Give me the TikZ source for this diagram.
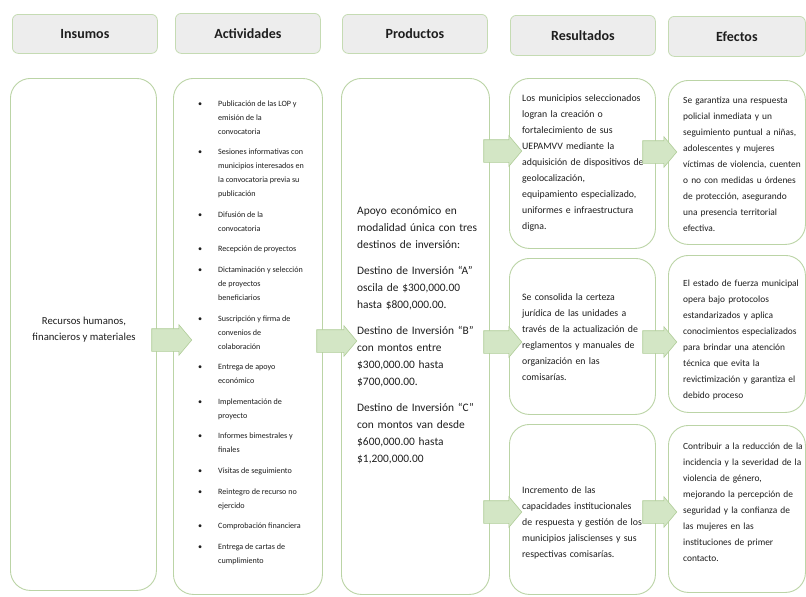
\documentclass[tikz,border=0pt]{standalone}
\usepackage{fontspec}
\setmainfont{Carlito}
\usetikzlibrary{shapes.arrows}
\definecolor{hdrfill}{HTML}{EDEDED}
\definecolor{hdrline}{HTML}{C5DBB3}
\definecolor{boxline}{HTML}{BBD4A6}
\definecolor{arrfill}{HTML}{D3E6C5}
\definecolor{arrline}{HTML}{B0CD98}
\definecolor{ink}{HTML}{1E1E1E}
\newcommand\actgap{\\[6.6pt]}
\begin{document}
\begin{tikzpicture}[x=1pt,y=-1pt,
  hdr/.style={draw=hdrline, fill=hdrfill, line width=0.8pt, rounded corners=6pt, anchor=north west, inner sep=0pt, font=\fontsize{14}{16}\selectfont\bfseries, text=ink},
  bigbox/.style={draw=boxline, fill=white, line width=0.9pt, rounded corners=20pt, anchor=north west, inner sep=0pt},
  barrow/.style={single arrow, draw=arrline, fill=arrfill, line width=0.6pt, inner xsep=0pt, inner ysep=11pt, minimum width=0pt, single arrow head extend=4pt, single arrow tip angle=100},
  bodytxt/.style={anchor=base west, inner sep=0pt, text=ink, align=left},
]
\useasboundingbox (0,0) rectangle (806,597);
\fill[white] (0,0) rectangle (806,597);

% headers
\node[hdr, minimum width=145pt, minimum height=39pt] (hins) at (12,14) {Insumos};
\node[hdr, minimum width=145pt, minimum height=40pt] (hact) at (175,13) {Actividades};
\node[hdr, minimum width=145pt, minimum height=39pt] (hpro) at (342,14) {Productos};
\node[hdr, minimum width=145pt, minimum height=40pt] (hres) at (510,15) {Resultados};
\node[hdr, minimum width=137pt, minimum height=40pt] (hefe) at (668,16) {Efectos};

% boxes
\node[bigbox, minimum width=146pt, minimum height=512pt] (ins) at (10,78) {};
\node[bigbox, minimum width=149pt, minimum height=516pt] (act) at (173,78) {};
\node[bigbox, minimum width=148pt, minimum height=516pt] (pro) at (341,78) {};
\node[bigbox, minimum width=146pt, minimum height=170pt] (res1) at (509,78) {};
\node[bigbox, minimum width=146pt, minimum height=156pt] (res2) at (509,258) {};
\node[bigbox, minimum width=146pt, minimum height=170pt] (res3) at (509,424) {};
\node[bigbox, minimum width=137pt, minimum height=164pt] (efe1) at (668,80) {};
\node[bigbox, minimum width=137pt, minimum height=157pt] (efe2) at (668,255) {};
\node[bigbox, minimum width=137pt, minimum height=167pt] (efe3) at (668,425) {};

% texts
\node[font=\fontsize{10.7}{16}\selectfont, align=center, text=ink, inner sep=0pt] (tins) at (84,330) {Recursos humanos,\\financieros y materiales};

\node[anchor=base west, inner sep=0pt, text=ink, font=\fontsize{8.1}{14}\selectfont] (tact) at (198,106) {%
\begin{tabular}[t]{@{}p{20pt}@{}l@{}}
\textbullet & Publicación de las LOP y\\
 & emisión de la\\
 & convocatoria\actgap
\textbullet & Sesiones informativas con\\
 & municipios interesados en\\
 & la convocatoria previa su\\
 & publicación\actgap
\textbullet & Difusión de la\\
 & convocatoria\actgap
\textbullet & Recepción de proyectos\actgap
\textbullet & Dictaminación y selección\\
 & de proyectos\\
 & beneficiarios\actgap
\textbullet & Suscripción y firma de\\
 & convenios de\\
 & colaboración\actgap
\textbullet & Entrega de apoyo\\
 & económico\actgap
\textbullet & Implementación de\\
 & proyecto\actgap
\textbullet & Informes bimestrales y\\
 & finales\actgap
\textbullet & Visitas de seguimiento\actgap
\textbullet & Reintegro de recurso no\\
 & ejercido\actgap
\textbullet & Comprobación financiera\actgap
\textbullet & Entrega de cartas de\\
 & cumplimiento
\end{tabular}};

\node[bodytxt, text width=135pt, font=\fontsize{11.4}{17}\selectfont] (tpro) at (357,214) {\setlength{\parskip}{9pt}%
Apoyo económico en\\modalidad única con tres\\destinos de inversión:\par
Destino de Inversión “A”\\oscila de \$300,000.00\\hasta \$800,000.00.\par
Destino de Inversión “B”\\con montos entre\\\$300,000.00 hasta\\\$700,000.00.\par
Destino de Inversión “C”\\con montos van desde\\\$600,000.00 hasta\\\$1,200,000.00};

\node[bodytxt, text width=135pt, font=\fontsize{9.8}{16}\selectfont] (tres1) at (522,101) {Los municipios seleccionados\\logran la creación o\\fortalecimiento de sus\\UEPAMVV mediante la\\adquisición de dispositivos de\\geolocalización,\\equipamiento especializado,\\uniformes e infraestructura\\digna.};
\node[bodytxt, text width=135pt, font=\fontsize{9.8}{16}\selectfont] (tres2) at (522,300) {Se consolida la certeza\\jurídica de las unidades a\\través de la actualización de\\reglamentos y manuales de\\organización en las\\comisarías.};
\node[bodytxt, text width=135pt, font=\fontsize{9.8}{16}\selectfont] (tres3) at (522,493) {Incremento de las\\capacidades institucionales\\de respuesta y gestión de los\\municipios jaliscienses y sus\\respectivas comisarías.};

\node[bodytxt, text width=135pt, font=\fontsize{9.4}{16}\selectfont] (tefe1) at (683,103) {Se garantiza una respuesta\\policial inmediata y un\\seguimiento puntual a niñas,\\adolescentes y mujeres\\víctimas de violencia, cuenten\\o no con medidas u órdenes\\de protección, asegurando\\una presencia territorial\\efectiva.};
\node[bodytxt, text width=135pt, font=\fontsize{9.4}{16}\selectfont] (tefe2) at (683,286) {El estado de fuerza municipal\\opera bajo protocolos\\estandarizados y aplica\\conocimientos especializados\\para brindar una atención\\técnica que evita la\\revictimización y garantiza el\\debido proceso};
\node[bodytxt, text width=135pt, font=\fontsize{9.4}{16}\selectfont] (tefe3) at (683,449) {Contribuir a la reducción de la\\incidencia y la severidad de la\\violencia de género,\\mejorando la percepción de\\seguridad y la confianza de\\las mujeres en las\\instituciones de primer\\contacto.};

% block arrows
\node[barrow, minimum height=40pt] (a1) at (167,340) {};
\node[barrow, minimum height=40pt] (a2) at (332,341) {};
\node[barrow, minimum height=38pt] (a3) at (498,151) {};
\node[barrow, minimum height=38pt] (a4) at (498,342) {};
\node[barrow, minimum height=38pt] (a5) at (498,512) {};
\node[barrow, minimum height=34pt] (a6) at (655,152) {};
\node[barrow, minimum height=34pt] (a7) at (655,342) {};
\node[barrow, minimum height=34pt] (a8) at (655,512) {};
\end{tikzpicture}
\end{document}
